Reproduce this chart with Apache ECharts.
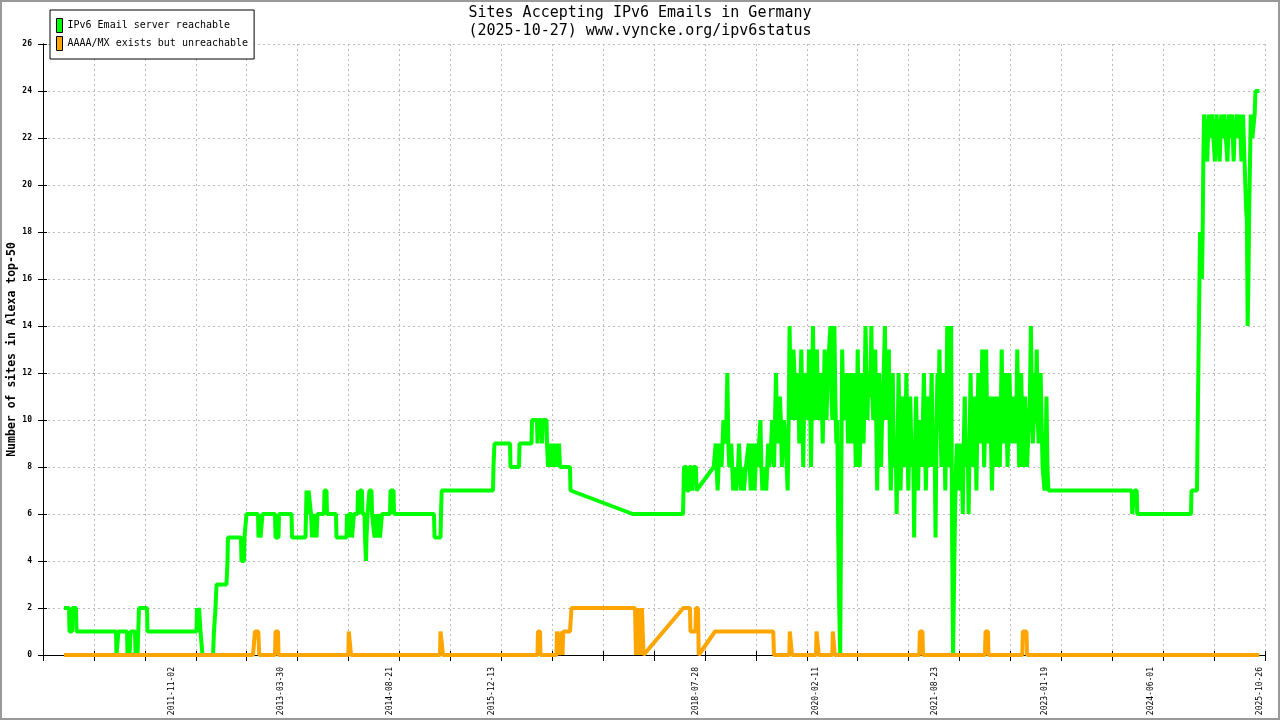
<!DOCTYPE html>
<html><head><meta charset="utf-8">
<script src="https://cdn.jsdelivr.net/npm/echarts@6/dist/echarts.min.js"></script>
<style>html,body{margin:0;padding:0;background:#fff}#c{width:1280px;height:720px}</style>
</head><body><div id="c"></div>
<script>
const TITLE = 'Sites Accepting IPv6 Emails in Germany\n(2025-10-27) www.vyncke.org/ipv6status';
const Y_NAME = 'Number of sites in Alexa top-50';
const SERIES_NAMES = ['IPv6 Email server reachable', 'AAAA/MX exists but unreachable'];
const X_LABEL_DATES = ['2011-11-02','2013-03-30','2014-08-21','2015-12-13','2018-07-28','2020-02-11','2021-08-23','2023-01-19','2024-06-01','2025-10-26'];
const Y_MIN = 0, Y_MAX = 26, Y_STEP = 2;
const AXIS_START_YEAR = 2010.1825, AXIS_END_YEAR = 2025.8827, X_DIVISIONS = 24;

// [decimal year, sites]
const greenEarly = [
[2010.452,2],[2010.517,2],[2010.523,1],[2010.555,1],[2010.561,2],[2010.606,2],[2010.613,1],
[2011.120,1],[2011.127,0],[2011.146,0],[2011.152,1],
[2011.262,1],[2011.268,0],[2011.281,1],[2011.294,0],[2011.307,1],
[2011.365,1],[2011.371,0],[2011.384,1],[2011.397,0],[2011.407,0],[2011.416,2],
[2011.519,2],[2011.525,1],
[2012.155,1],[2012.161,2],[2012.174,1.5],[2012.187,2],[2012.206,1],[2012.225,1],[2012.232,0],
[2012.367,0],[2012.379,1],[2012.399,2],[2012.412,3],[2012.540,3],[2012.553,4],[2012.559,5],
[2012.726,5],[2012.733,4],[2012.765,4],[2012.771,5],[2012.791,5],[2012.797,6],
[2012.945,6],[2012.951,5],[2012.970,6],[2012.977,5],[2012.996,5],[2013.003,6],
[2013.163,6],[2013.170,5],[2013.208,5],[2013.215,6],
[2013.375,6],[2013.382,5],[2013.555,5],[2013.562,6],[2013.568,7],[2013.581,6],[2013.594,7],[2013.613,7],[2013.626,6],
[2013.639,5],[2013.652,6],[2013.664,5],[2013.684,6],[2013.697,5],[2013.709,6],
[2013.793,6],[2013.799,7],[2013.825,7],[2013.831,6],
[2013.947,6],[2013.953,5],[2014.082,5],[2014.088,6],[2014.101,5],[2014.114,6],[2014.146,6],[2014.152,5],[2014.172,5],[2014.178,6],
[2014.223,6],[2014.230,7],[2014.243,6],[2014.255,7],[2014.281,7],[2014.287,6],
[2014.313,6],[2014.320,5],[2014.332,4],[2014.339,5],[2014.352,6],[2014.371,6],[2014.377,7],[2014.403,7],[2014.410,6],
[2014.435,6],[2014.442,5],[2014.461,6],[2014.474,5],[2014.500,6],[2014.512,5],[2014.532,5],[2014.538,6],
[2014.641,6],[2014.647,7],[2014.686,7],[2014.692,6],
[2015.206,6],[2015.213,5],[2015.290,5],[2015.296,6],[2015.305,7],
[2015.964,7],[2015.970,8],[2015.983,9],
[2016.183,9],[2016.189,8],[2016.298,8],[2016.305,9],
[2016.459,9],[2016.465,10],[2016.529,10],[2016.536,9],[2016.549,10],[2016.587,10],[2016.594,9],[2016.606,10],[2016.651,10],[2016.658,9],
[2016.671,8],[2016.684,9],[2016.696,8],[2016.709,9],[2016.722,8],[2016.735,9],[2016.748,8],[2016.761,9],[2016.773,8],[2016.786,9],[2016.799,8],[2016.812,9],[2016.825,8],
[2016.953,8],[2016.960,7],
[2017.759,6],
[2018.405,6],[2018.412,7],[2018.418,8],[2018.450,8],[2018.456,7],[2018.482,7],[2018.488,8],[2018.514,8],[2018.520,7],[2018.533,7],[2018.540,8],[2018.572,8],[2018.578,7],[2018.598,7]
];

// busy 2018-2023 period: day-to-day extremes ...
const greenNoisy = [
[2018.800,8],[2018.825,9],[2018.850,7],[2018.875,9],[2018.900,8],[2018.925,10],[2018.950,9],[2018.975,12],
[2019.000,8],[2019.025,9],[2019.050,7],[2019.075,8],[2019.100,7],[2019.125,9],[2019.150,7],[2019.175,8],
[2019.200,7],[2019.225,8],[2019.250,9],[2019.275,7],[2019.300,9],[2019.325,7],[2019.350,9],[2019.375,8],
[2019.400,10],[2019.425,7],[2019.450,8],[2019.475,7],[2019.500,9],[2019.525,8],[2019.550,10],[2019.575,8],
[2019.600,12],[2019.625,9],[2019.650,11],[2019.675,8],[2019.700,10],[2019.725,9],[2019.750,7],[2019.775,14],
[2019.800,10],[2019.825,13],[2019.850,10],[2019.875,12],[2019.900,9],[2019.925,13],[2019.950,8],[2019.975,12],
[2020.000,10],[2020.025,13],[2020.050,8],[2020.075,14],[2020.100,10],[2020.125,13],[2020.150,10],[2020.175,12],
[2020.200,9],[2020.225,13],[2020.250,10],[2020.275,12],[2020.300,14],[2020.325,10],[2020.350,14],[2020.375,9],
[2020.400,5],[2020.425,0],[2020.450,13],[2020.475,10],[2020.500,12],[2020.525,9],[2020.550,12],[2020.575,9],
[2020.600,12],[2020.625,8],[2020.650,13],[2020.675,8],[2020.700,12],[2020.725,9],[2020.750,14],[2020.775,10],
[2020.800,12],[2020.825,14],[2020.850,10],[2020.875,13],[2020.900,7],[2020.925,12],[2020.950,8],[2020.975,11],
[2021.000,14],[2021.025,10],[2021.050,13],[2021.075,7],[2021.100,12],[2021.125,8],[2021.150,6],[2021.175,12],
[2021.200,7],[2021.225,11],[2021.250,8],[2021.275,12],[2021.300,7],[2021.325,11],[2021.350,8],[2021.375,5],
[2021.400,11],[2021.425,7],[2021.450,10],[2021.475,8],[2021.500,12],[2021.525,7],[2021.550,11],[2021.575,8],
[2021.600,12],[2021.625,8],[2021.650,5],[2021.675,12],[2021.700,13],[2021.725,8],[2021.750,12],[2021.775,7],
[2021.800,14],[2021.825,8],[2021.850,14],[2021.875,0],[2021.900,6],[2021.925,9],[2021.950,7],[2021.975,9],
[2022.000,6],[2022.025,11],[2022.050,8],[2022.075,6],[2022.100,12],[2022.125,8],[2022.150,11],[2022.175,7],
[2022.200,12],[2022.225,9],[2022.250,13],[2022.275,8],[2022.300,13],[2022.325,9],[2022.350,11],[2022.375,7],
[2022.400,11],[2022.425,8],[2022.450,11],[2022.475,8],[2022.500,13],[2022.525,9],[2022.550,12],[2022.575,8],
[2022.600,12],[2022.625,9],[2022.650,11],[2022.675,9],[2022.700,13],[2022.725,8],[2022.750,12],[2022.775,8],
[2022.800,11],[2022.825,8],[2022.850,10],[2022.875,14],[2022.900,9],[2022.925,12],[2022.950,13],[2022.975,9],
[2023.000,12],[2023.025,8],[2023.050,7],[2023.075,11],[2023.100,7]
];
// ... and the typical level in between
const greenNoisyCore = [
[2018.8125,8],[2018.8375,8],[2018.8625,8],[2018.8875,9],[2018.9125,9],[2018.9375,9],[2018.9625,10],[2018.9875,9],[2019.0125,8],[2019.0375,8],
[2019.0625,8],[2019.0875,7],[2019.1125,8],[2019.1375,8],[2019.1625,8],[2019.1875,7],[2019.2125,8],[2019.2375,8],[2019.2625,8],[2019.2875,8],
[2019.3125,8],[2019.3375,8],[2019.3625,8],[2019.3875,8],[2019.4125,8],[2019.4375,8],[2019.4625,8],[2019.4875,8],[2019.5125,8],[2019.5375,9],[2019.5625,9],
[2019.5875,10],[2019.6125,10],[2019.6375,10],[2019.6625,10],[2019.6875,9],[2019.7125,10],[2019.7375,9],[2019.7625,10],
[2019.7875,11],[2019.8125,11],[2019.8375,12],[2019.8625,11],[2019.8875,11],[2019.9125,11],[2019.9375,11],[2019.9625,11],[2019.9875,11],
[2020.0125,11],[2020.0375,11],[2020.0625,11],[2020.0875,11],[2020.1125,12],[2020.1375,11],[2020.1625,11],[2020.1875,11],[2020.2125,11],
[2020.2375,11],[2020.2625,12],[2020.2875,12],[2020.3125,11],[2020.3375,12],[2020.3625,11],[2020.3875,10],
[2020.4125,2],[2020.4375,0],
[2020.4625,11],[2020.4875,11],[2020.5125,11],[2020.5375,10],[2020.5625,10],[2020.5875,10],[2020.6125,10],[2020.6375,10],[2020.6625,10],
[2020.6875,10],[2020.7125,11],[2020.7375,11],[2020.7625,12],[2020.7875,12],[2020.8125,11],[2020.8375,11],[2020.8625,11],[2020.8875,10],[2020.9125,10],
[2020.9375,10],[2020.9625,10],[2020.9875,11],[2021.0125,10],[2021.0375,10],[2021.0625,9],[2021.0875,9],[2021.1125,9],[2021.1375,9],[2021.1625,9],
[2021.1875,9],[2021.2125,9],[2021.2375,9],[2021.2625,9],[2021.2875,9],[2021.3125,9],[2021.3375,9],[2021.3625,9],[2021.3875,9],[2021.4125,9],
[2021.4375,9],[2021.4625,9],[2021.4875,10],[2021.5125,10],[2021.5375,9],[2021.5625,10],[2021.5875,10],[2021.6125,9],[2021.6375,9],[2021.6625,10],
[2021.6875,10],[2021.7125,10],[2021.7375,9],[2021.7625,10],[2021.7875,10],[2021.8125,10],[2021.8375,11],
[2021.8625,5],[2021.8875,0],
[2021.9125,8],[2021.9375,8],[2021.9625,8],[2021.9875,8],[2022.0125,9],[2022.0375,9],[2022.0625,9],[2022.0875,9],[2022.1125,9],[2022.1375,9],
[2022.1625,10],[2022.1875,10],[2022.2125,10],[2022.2375,10],[2022.2625,10],[2022.2875,10],[2022.3125,10],[2022.3375,10],[2022.3625,9],[2022.3875,9],
[2022.4125,9],[2022.4375,10],[2022.4625,10],[2022.4875,10],[2022.5125,10],[2022.5375,10],[2022.5625,10],[2022.5875,10],[2022.6125,10],[2022.6375,10],
[2022.6625,10],[2022.6875,10],[2022.7125,10],[2022.7375,10],[2022.7625,10],[2022.7875,10],[2022.8125,9],[2022.8375,9],[2022.8625,11],[2022.8875,11],
[2022.9125,10],[2022.9375,11],[2022.9625,10],[2022.9875,10],[2023.0125,10],[2023.0375,8],[2023.0625,8],[2023.0875,8]
];

const greenLate = [
[2024.170,7],[2024.177,6],[2024.200,6],[2024.207,7],[2024.235,7],[2024.241,6],[2024.932,6],[2024.938,7],
[2025.009,7],[2025.015,9],[2025.035,9],[2025.041,16],[2025.048,18],[2025.057,16],[2025.064,18],[2025.073,16],[2025.082,18],[2025.090,21],
[2025.10,23],[2025.12,22],[2025.14,21],[2025.16,23],[2025.18,22],[2025.20,23],[2025.22,22],[2025.24,21],
[2025.26,23],[2025.28,22],[2025.30,21],[2025.32,23],[2025.34,22],[2025.36,23],[2025.38,22],[2025.40,21],
[2025.42,23],[2025.44,22],[2025.46,23],[2025.48,21],[2025.50,22],[2025.52,23],[2025.54,22],[2025.56,23],
[2025.58,21],[2025.60,23],[2025.62,21],[2025.64,19],[2025.66,14],[2025.68,19],[2025.70,23],[2025.72,22],
[2025.74,22],[2025.76,24],[2025.78,24],[2025.81,24]
];
const greenLateCore = [
[2025.11,22.5],[2025.13,22],[2025.15,22],[2025.17,22.5],[2025.19,22.5],[2025.21,22.5],[2025.23,22],[2025.25,22],
[2025.27,22.5],[2025.29,22],[2025.31,22],[2025.33,22.5],[2025.35,22.5],[2025.37,22.5],[2025.39,22],[2025.41,22],
[2025.43,22.5],[2025.45,22.5],[2025.47,22],[2025.49,22],[2025.51,22.5],[2025.53,22.5],[2025.55,22.5],[2025.57,22],
[2025.59,22],[2025.61,22],[2025.63,20],[2025.65,18.5],[2025.67,16],[2025.69,21],[2025.71,22.5],[2025.73,22],[2025.75,23]
];

const orange = [
[2010.452,0],[2012.881,0],[2012.906,1],[2012.949,1],[2012.961,0],
[2013.163,0],[2013.170,1],[2013.202,1],[2013.208,0],
[2014.105,0],[2014.111,1],[2014.133,1],[2014.140,0],
[2015.283,0],[2015.290,1],[2015.315,1],[2015.322,0],
[2016.536,0],[2016.542,1],[2016.568,1],[2016.574,0],
[2016.780,0],[2016.786,1],[2016.805,1],[2016.812,0],[2016.818,0],[2016.844,1],[2016.857,0],[2016.867,1],
[2016.953,1],[2016.973,2],
[2017.789,2],[2017.801,0],[2017.814,2],[2017.834,0],[2017.846,2],[2017.866,0],[2017.878,2],[2017.898,0],[2017.910,0],
[2018.409,2],[2018.495,2],[2018.501,1],[2018.566,1],[2018.572,2],[2018.598,2],[2018.607,0],
[2018.816,1],[2019.565,1],[2019.574,0],
[2019.771,0],[2019.777,1],[2019.799,1],[2019.806,0],
[2020.114,0],[2020.121,1],[2020.144,1],[2020.150,0],
[2020.323,0],[2020.330,1],[2020.349,1],[2020.355,0],
[2021.441,0],[2021.448,1],[2021.482,1],[2021.489,0],
[2022.285,0],[2022.292,1],[2022.324,1],[2022.330,0],
[2022.764,0],[2022.771,1],[2022.818,1],[2022.825,0],
[2025.810,0]
];

function yearFrac(s) {
  const [y, m, d] = s.split('-').map(Number);
  const doy = (Date.UTC(y, m - 1, d) - Date.UTC(y, 0, 1)) / 864e5;
  const diy = (y % 4 === 0 && (y % 100 !== 0 || y % 400 === 0)) ? 366 : 365;
  return y + doy / diy;
}
const byYear = (a, b) => a[0] - b[0];
const span = AXIS_END_YEAR - AXIS_START_YEAR;
const xInterval = span / X_DIVISIONS;
const toX = p => [p[0] - AXIS_START_YEAR, p[1]];
const green = greenEarly.concat(
  greenNoisy.concat(greenNoisyCore).sort(byYear),
  greenLate.concat(greenLateCore).sort(byYear)
);
const labelOffsets = X_LABEL_DATES.map(s => yearFrac(s) - AXIS_START_YEAR);
function xLabel(v) {
  let best = 0, bd = Infinity;
  labelOffsets.forEach((o, i) => { const d = Math.abs(o - v); if (d < bd) { bd = d; best = i; } });
  return X_LABEL_DATES[best];
}
const MONO = 'DejaVu Sans Mono';
const grid = '#bdbdbd';

const chart = echarts.init(document.getElementById('c'), null, {renderer: 'canvas', width: 1280, height: 720});
chart.setOption({
  animation: false,
  backgroundColor: '#fff',
  title: {
    text: TITLE, left: 'center', top: 4, padding: 0,
    textStyle: {fontFamily: MONO, fontSize: 15, fontWeight: 'normal', color: '#000', lineHeight: 18}
  },
  legend: {
    orient: 'vertical', left: 50, top: 10, padding: [8, 6, 8, 6], itemGap: 3,
    itemWidth: 6, itemHeight: 14, icon: 'rect',
    backgroundColor: '#fff', borderColor: '#000', borderWidth: 1, z: 20,
    itemStyle: {borderColor: '#000', borderWidth: 1},
    textStyle: {fontFamily: MONO, fontSize: 10, color: '#000'},
    data: SERIES_NAMES
  },
  grid: {left: 43, right: 15, top: 44, bottom: 65, containLabel: false, outerBoundsMode: 'none'},
  xAxis: [{
    type: 'value', min: 0, max: span, interval: xInterval,
    axisLine: {show: true, onZero: false, lineStyle: {color: '#000', width: 1}},
    axisTick: {show: true, length: 6, lineStyle: {color: '#000'}},
    axisLabel: {show: true, customValues: labelOffsets, rotate: 90, margin: 12, fontFamily: MONO, fontSize: 8, color: '#000', formatter: xLabel},
    splitLine: {show: true, lineStyle: {color: grid, type: [2, 3], width: 1}}
  }, {
    type: 'value', min: 0, max: span, interval: xInterval, position: 'bottom',
    axisLine: {show: false}, axisTick: {show: true, inside: true, length: 4, lineStyle: {color: '#000'}},
    axisLabel: {show: false}, splitLine: {show: false}
  }],
  yAxis: [{
    type: 'value', min: Y_MIN, max: Y_MAX, interval: Y_STEP, position: 'left',
    axisLine: {show: true, onZero: false, lineStyle: {color: '#000', width: 1}},
    axisTick: {show: true, length: 5, lineStyle: {color: '#000'}},
    axisLabel: {margin: 11, fontFamily: MONO, fontSize: 8, fontWeight: 'bold', color: '#000'},
    splitLine: {show: true, lineStyle: {color: grid, type: [2, 3], width: 1}},
    name: Y_NAME, nameLocation: 'middle', nameGap: 25, nameMoveOverlap: false,
    nameTextStyle: {fontFamily: MONO, fontSize: 11.5, fontWeight: 'bold', color: '#000'}
  }, {
    type: 'value', min: Y_MIN, max: Y_MAX, interval: Y_STEP, position: 'left',
    axisLine: {show: false}, axisTick: {show: true, inside: true, length: 4, lineStyle: {color: '#000'}},
    axisLabel: {show: false}, splitLine: {show: false}
  }, {
    type: 'value', min: Y_MIN, max: Y_MAX, interval: Y_STEP, position: 'right',
    axisLine: {show: true, lineStyle: {color: '#000', width: 1}}, axisTick: {show: false},
    axisLabel: {show: false}, splitLine: {show: false}
  }],
  series: [{
    name: SERIES_NAMES[0], type: 'line', data: green.map(toX), showSymbol: false, symbol: 'none',
    lineStyle: {color: '#00ff00', width: 4}, itemStyle: {color: '#00ff00'}, z: 3
  }, {
    name: SERIES_NAMES[1], type: 'line', data: orange.map(toX), showSymbol: false, symbol: 'none',
    lineStyle: {color: '#ffa500', width: 4}, itemStyle: {color: '#ffa500'}, z: 4
  }],
  graphic: [{
    type: 'rect', silent: true, z: 100,
    shape: {x: 1, y: 1, width: 1278, height: 718},
    style: {fill: null, stroke: '#999', lineWidth: 2}
  }]
});
</script></body></html>
